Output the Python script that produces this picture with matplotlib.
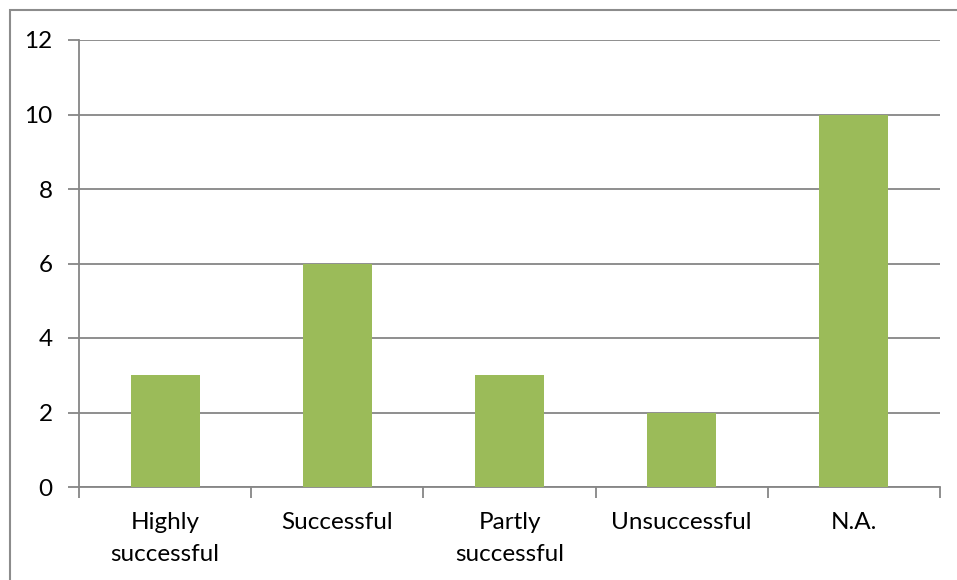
import numpy as np
import matplotlib.pyplot as plt
from matplotlib.patches import Rectangle

categories = ["Highly\nsuccessful", "Successful", "Partly\nsuccessful", "Unsuccessful", "N.A."]
counts = [3, 6, 3, 2, 10]
y_ticks = [0, 2, 4, 6, 8, 10, 12]

plt.rcParams["font.family"] = ["Lato", "DejaVu Sans"]

fig = plt.figure(figsize=(9.57, 5.8), dpi=100)
ax = fig.add_axes([79 / 957, 1 - 487 / 580, (940 - 79) / 957, (487 - 40) / 580])

grid_col = "#868686"
x = np.arange(len(categories))
ax.bar(x, counts, width=0.4, color="#9BBB59", zorder=3)

ax.set_xlim(-0.5, len(categories) - 0.5)
ax.set_ylim(0, 12)
ax.set_yticks(y_ticks)
ax.set_yticklabels([str(v) for v in y_ticks], fontsize=17.5)
ax.yaxis.grid(True, color=grid_col, linewidth=1.3, zorder=0)

# category labels centred, tick marks at category boundaries
ax.set_xticks(x)
ax.set_xticklabels(categories, fontsize=17.5, linespacing=1.65)
ax.tick_params(axis="x", length=0, pad=18)
ax.set_xticks(np.arange(-0.5, len(categories)), minor=True)
ax.tick_params(axis="x", which="minor", length=8, width=1.3, color=grid_col)
ax.tick_params(axis="y", length=8, width=1.3, color=grid_col, pad=11)

for side in ("top", "right"):
    ax.spines[side].set_visible(False)
for side in ("left", "bottom"):
    ax.spines[side].set_color(grid_col)
    ax.spines[side].set_linewidth(1.3)

# chart frame
fig.patches.append(Rectangle((10 / 957, -0.1), 1.2, 1 - 10 / 580 + 0.1,
                             transform=fig.transFigure, fill=False,
                             edgecolor="#8c8c8c", linewidth=1.5))

fig.savefig("out.png", dpi=100)
